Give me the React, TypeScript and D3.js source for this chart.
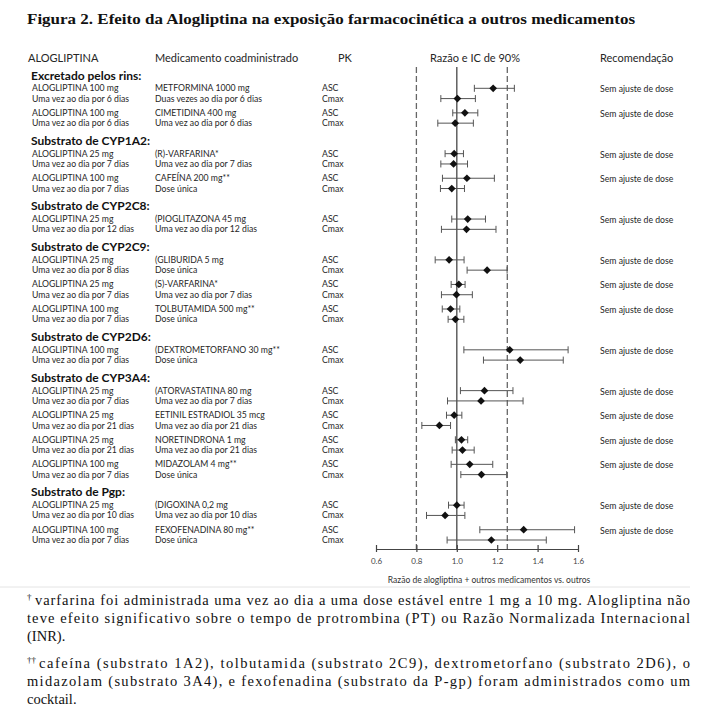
import React, { useEffect, useRef } from "react";
import * as d3 from "d3";

// ---------- data ----------
const titleText = "Figura 2. Efeito da Alogliptina na exposição farmacocinética a outros medicamentos";
const headerLabels = ["ALOGLIPTINA", "Medicamento coadministrado", "PK", "Razão e IC de 90%", "Recomendação"];
const sectionNames = [
  "Excretado pelos rins:",
  "Substrato de CYP1A2:",
  "Substrato de CYP2C8:",
  "Substrato de CYP2C9:",
  "Substrato de CYP2D6:",
  "Substrato de CYP3A4:",
  "Substrato de Pgp:",
];
const pairSection = [0, 0, 1, 1, 2, 3, 3, 3, 4, 5, 5, 5, 5, 6, 6];
const alogDose = [
  "ALOGLIPTINA 100 mg", "ALOGLIPTINA 100 mg", "ALOGLIPTINA 25 mg", "ALOGLIPTINA 100 mg",
  "ALOGLIPTINA 25 mg", "ALOGLIPTINA 25 mg", "ALOGLIPTINA 25 mg", "ALOGLIPTINA 100 mg",
  "ALOGLIPTINA 100 mg", "ALOGLIPTINA 25 mg", "ALOGLIPTINA 25 mg", "ALOGLIPTINA 25 mg",
  "ALOGLIPTINA 100 mg", "ALOGLIPTINA 25 mg", "ALOGLIPTINA 100 mg",
];
const alogRegimen = [
  "Uma vez ao dia por 6 dias", "Uma vez ao dia por 6 dias", "Uma vez ao dia por 7 dias", "Uma vez ao dia por 7 dias",
  "Uma vez ao dia por 12 dias", "Uma vez ao dia por 8 dias", "Uma vez ao dia por 7 dias", "Uma vez ao dia por 7 dias",
  "Uma vez ao dia por 7 dias", "Uma vez ao dia por 7 dias", "Uma vez ao dia por 21 dias", "Uma vez ao dia por 21 dias",
  "Uma vez ao dia por 7 dias", "Uma vez ao dia por 10 dias", "Uma vez ao dia por 7 dias",
];
const coDrug = [
  "METFORMINA 1000 mg", "CIMETIDINA 400 mg", "(R)-VARFARINA*", "CAFEÍNA 200 mg**",
  "(PIOGLITAZONA 45 mg", "(GLIBURIDA 5 mg", "(S)-VARFARINA*", "TOLBUTAMIDA 500 mg**",
  "(DEXTROMETORFANO 30 mg**", "(ATORVASTATINA 80 mg", "EETINIL ESTRADIOL 35 mcg", "NORETINDRONA 1 mg",
  "MIDAZOLAM 4 mg**", "(DIGOXINA 0,2 mg", "FEXOFENADINA 80 mg**",
];
const coRegimen = [
  "Duas vezes ao dia por 6 dias", "Uma vez ao dia por 6 dias", "Uma vez ao dia por 7 dias", "Dose única",
  "Uma vez ao dia por 12 dias", "Dose única", "Uma vez ao dia por 7 dias", "Dose única",
  "Dose única", "Uma vez ao dia por 7 dias", "Uma vez ao dia por 21 dias", "Uma vez ao dia por 21 dias",
  "Dose única", "Uma vez ao dia por 10 dias", "Dose única",
];
const recommendation = Array.from({ length: 15 }, () => "Sem ajuste de dose");
const pkLabels = ["ASC", "Cmax"];

const ascRatio = [1.18, 1.04, 0.987, 1.05, 1.054, 0.962, 1.01, 0.969, 1.262, 1.137, 0.987, 1.023, 1.064, 1.0, 1.331];
const ascLow = [1.087, 0.98, 0.942, 0.929, 0.975, 0.893, 0.972, 0.928, 1.035, 1.018, 0.949, 0.993, 0.972, 0.959, 1.114];
const ascHigh = [1.285, 1.104, 1.033, 1.186, 1.142, 1.036, 1.041, 1.015, 1.551, 1.278, 1.025, 1.054, 1.178, 1.036, 1.583];
const cmaxRatio = [1.003, 0.992, 0.984, 0.975, 1.048, 1.15, 0.998, 0.993, 1.314, 1.12, 0.914, 1.028, 1.122, 0.942, 1.171];
const cmaxLow = [0.921, 0.906, 0.921, 0.919, 0.924, 1.051, 0.924, 0.957, 1.132, 0.954, 0.827, 0.977, 1.02, 0.85, 0.952];
const cmaxHigh = [1.092, 1.082, 1.053, 1.038, 1.194, 1.249, 1.077, 1.035, 1.527, 1.328, 0.969, 1.086, 1.247, 1.04, 1.443];

const xDomain = [0.6, 1.6];
const xTicks = [0.6, 0.8, 1.0, 1.2, 1.4, 1.6];
const refSolid = [1.0];
const refDashed = [0.8, 1.25];
const xAxisTitle = "Razão de alogliptina + outros medicamentos vs. outros";

const footnote1 = [
  "varfarina foi administrada uma vez ao dia a uma dose estável entre 1 mg a 10 mg. Alogliptina não",
  "teve efeito significativo sobre o tempo de protrombina (PT) ou Razão Normalizada Internacional",
  "(INR).",
];
const footnote2 = [
  "cafeína (substrato 1A2), tolbutamida (substrato 2C9), dextrometorfano (substrato 2D6), o",
  "midazolam (substrato 3A4), e fexofenadina (substrato da P-gp) foram administrados como um",
  "cocktail.",
];

// ---------- layout ----------
const W = 717, H = 718;
const SANS = "Lato, 'Open Sans', sans-serif";
const SERIF = "'Liberation Serif', 'DejaVu Serif', serif";
const TXT = "#262626";

export default function App() {
  const axisRef = useRef<SVGGElement>(null);

  const x = d3.scaleLinear().domain(xDomain).range([376, 578]);

  // vertical units: within pair 1, between pairs 1.39, between sections 2.97
  const units: number[] = [];
  let u = 0;
  pairSection.forEach((s, i) => {
    if (i > 0) u += pairSection[i - 1] === s ? 1.39 : 2.97;
    units.push(u);
    u += 1;
  });
  const y = d3.scaleLinear().domain([0, units[units.length - 1] + 1]).range([88.3, 540]);
  const axisY = 549;

  useEffect(() => {
    if (!axisRef.current) return;
    const g = d3.select(axisRef.current);
    g.selectAll("*").remove();
    g.call(
      d3.axisBottom(x).tickValues(xTicks).tickFormat(d3.format(".1f")).tickSize(5).tickSizeOuter(0)
    );
    g.select(".domain").attr("stroke", "#444").attr("stroke-width", 1.2);
    g.selectAll(".tick line").attr("stroke", "#444").attr("stroke-width", 1.2).attr("y1", -4).attr("y2", 3);
    g.selectAll(".tick text")
      .attr("font-family", SANS)
      .attr("font-size", 8)
      .attr("fill", "#444")
      .attr("y", 9);
  }, []);

  const sectionFirst = sectionNames.map((_, s) => pairSection.indexOf(s));
  const diamond = d3.symbol().type(d3.symbolDiamond2).size(38)();

  const rows: { yy: number; r: number; lo: number; hi: number }[] = [];
  pairSection.forEach((_, i) => {
    rows.push({ yy: y(units[i]), r: ascRatio[i], lo: ascLow[i], hi: ascHigh[i] });
    rows.push({ yy: y(units[i] + 1), r: cmaxRatio[i], lo: cmaxLow[i], hi: cmaxHigh[i] });
  });

  const fnX = 27, fnW = 663;

  return (
    <svg width={W} height={H} style={{ position: "absolute", left: 0, top: 0, background: "#fff" }}>
      <rect width={W} height={H} fill="#fff" />
      <text x={27} y={24} fontFamily={SERIF} fontWeight="bold" fontSize={15.5} fill="#111"
        textLength={608} lengthAdjust="spacingAndGlyphs">{titleText}</text>

      {/* column headers */}
      {headerLabels.map((h, i) => (
        <text key={h} x={[28, 155, 338, 430, 600][i]} y={62} fontFamily={SANS} fontSize={11} fill={TXT}>{h}</text>
      ))}

      {/* reference lines */}
      {refSolid.map((v) => (
        <line key={v} x1={x(v)} x2={x(v)} y1={67} y2={axisY} stroke="#555" strokeWidth={1.4} />
      ))}
      {refDashed.map((v) => (
        <line key={v} x1={x(v)} x2={x(v)} y1={67} y2={axisY} stroke="#666" strokeWidth={1.3} strokeDasharray="6,3" />
      ))}

      {/* section headers */}
      {sectionNames.map((s, i) => (
        <text key={s} x={31} y={y(units[sectionFirst[i]]) - 13} dy="0.35em" fontFamily={SANS}
          fontWeight="bold" fontSize={12} fill="#111">{s}</text>
      ))}

      {/* row texts */}
      {pairSection.map((_, i) => {
        const ya = y(units[i]);
        const yc = y(units[i] + 1);
        return (
          <g key={i} fontFamily={SANS} fontSize={8.7} fill={TXT}>
            <text x={32} y={ya} dy="0.35em">{alogDose[i]}</text>
            <text x={32} y={yc} dy="0.35em">{alogRegimen[i]}</text>
            <text x={155} y={ya} dy="0.35em">{coDrug[i]}</text>
            <text x={155} y={yc} dy="0.35em">{coRegimen[i]}</text>
            <text x={322} y={ya} dy="0.35em">{pkLabels[0]}</text>
            <text x={322} y={yc} dy="0.35em">{pkLabels[1]}</text>
            <text x={600} y={ya + 1} dy="0.35em">{recommendation[i]}</text>
          </g>
        );
      })}

      {/* CI bars and points */}
      {rows.map((d, i) => (
        <g key={i}>
          <line x1={x(d.lo)} x2={x(d.hi)} y1={d.yy} y2={d.yy} stroke="#555" strokeWidth={1} />
          <line x1={x(d.lo)} x2={x(d.lo)} y1={d.yy - 3.5} y2={d.yy + 3.5} stroke="#555" strokeWidth={1} />
          <line x1={x(d.hi)} x2={x(d.hi)} y1={d.yy - 3.5} y2={d.yy + 3.5} stroke="#555" strokeWidth={1} />
          <path d={diamond} transform={`translate(${x(d.r)},${d.yy})`} fill="#111" />
        </g>
      ))}

      <g ref={axisRef} transform={`translate(0,${axisY})`} />
      <text x={(380 + 598) / 2} y={580} dy="0.35em" textAnchor="middle" fontFamily={SANS} fontSize={8.5} fill="#333">{xAxisTitle}</text>
      <line x1={0} x2={690} y1={587} y2={587} stroke="#e4e4e4" strokeWidth={1} />

      {/* footnotes */}
      <g fontFamily={SERIF} fontSize={14.5} fill="#111">
        {footnote1.map((t, i) => (
          <text key={i} x={fnX + (i === 0 ? 8 : 0)} y={605 + i * 18}
            textLength={i < 2 ? fnW - (i === 0 ? 8 : 0) : undefined} lengthAdjust="spacing">{t}</text>
        ))}
        <text x={fnX} y={600} fontSize={9}>†</text>
        {footnote2.map((t, i) => (
          <text key={i} x={fnX + (i === 0 ? 12 : 0)} y={668 + i * 18}
            textLength={i < 2 ? fnW - (i === 0 ? 12 : 0) : undefined} lengthAdjust="spacing">{t}</text>
        ))}
        <text x={fnX} y={663} fontSize={9}>††</text>
      </g>
    </svg>
  );
}
